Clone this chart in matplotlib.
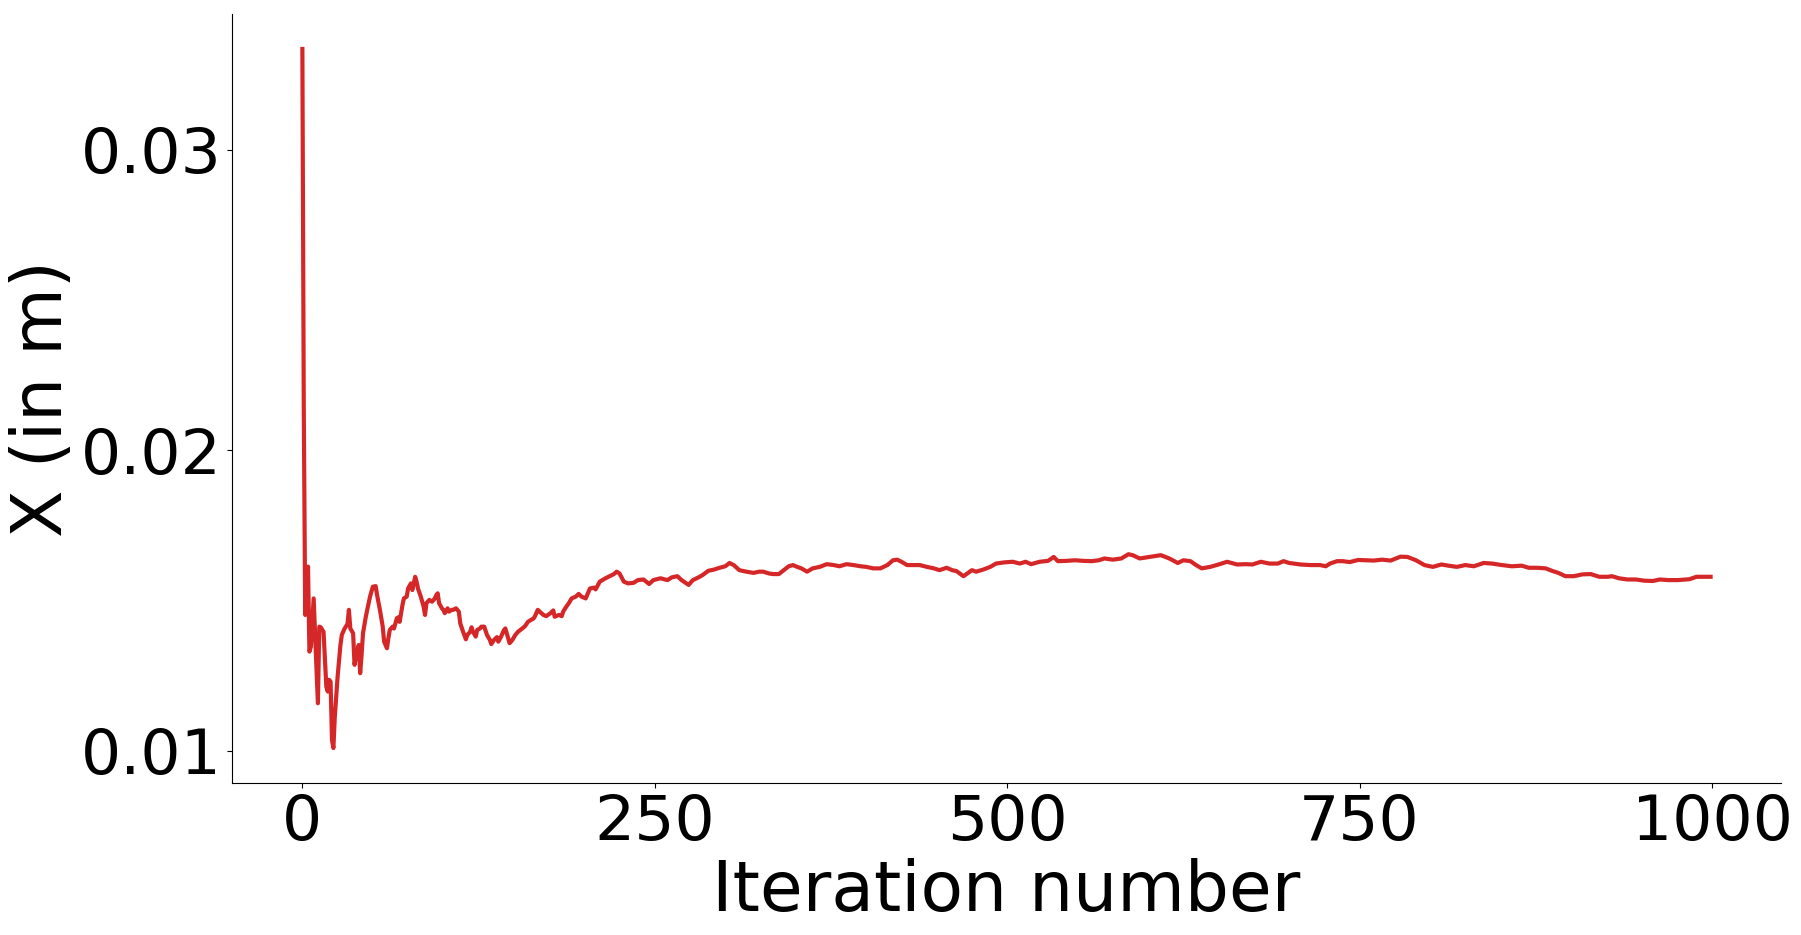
import matplotlib.pyplot as plt

# valores
iteration = [0, 1, 2, 4, 5, 6, 8, 11, 12, 13, 15, 17, 18, 19, 20, 21, 22, 23, 25, 27,
             28, 30, 32, 33, 34, 36, 37, 38, 40, 41, 42, 43, 45, 46, 48, 50, 52, 53, 55, 57,
             58, 60, 61, 62, 64, 65, 67, 68, 69, 71, 72, 74, 75, 77, 78, 79, 80, 81, 82, 84,
             86, 87, 88, 90, 92, 94, 95, 96, 97, 99, 100, 101, 103, 104, 106, 107, 109, 111, 112, 114,
             116, 117, 119, 120, 121, 123, 124, 126, 127, 129, 131, 133, 134, 136, 138, 139, 141, 143, 144, 145,
             147, 149, 151, 153, 156, 158, 160, 162, 164, 165, 167, 169, 171, 173, 176, 178, 179, 182, 184, 185,
             187, 189, 191, 194, 196, 198, 201, 204, 207, 208, 211, 215, 218, 221, 223, 225, 228, 231, 235, 238,
             242, 246, 249, 254, 259, 262, 266, 269, 274, 277, 281, 284, 288, 292, 296, 300, 303, 306, 310, 315,
             320, 324, 327, 331, 334, 338, 341, 345, 348, 351, 354, 358, 362, 367, 372, 377, 381, 386, 391, 396,
             400, 405, 410, 415, 419, 422, 425, 429, 433, 438, 443, 448, 452, 457, 461, 464, 469, 475, 478, 483,
             488, 492, 498, 504, 509, 513, 517, 523, 529, 533, 536, 542, 548, 554, 560, 565, 569, 575, 581, 586,
             589, 594, 601, 609, 615, 621, 625, 630, 634, 638, 644, 650, 656, 663, 669, 674, 680, 686, 692, 696,
             700, 708, 715, 722, 726, 729, 734, 738, 743, 749, 754, 760, 766, 772, 779, 784, 790, 796, 802, 808,
             813, 819, 825, 831, 838, 844, 851, 858, 865, 870, 876, 882, 887, 891, 896, 902, 908, 914, 920, 926,
             929, 934, 940, 946, 952, 958, 963, 969, 976, 984, 989, 994, 999]

x_m = [0.03336, 0.0213, 0.01452, 0.01613, 0.0133, 0.01346, 0.01507, 0.01158, 0.01413, 0.01411,
       0.01396, 0.01213, 0.01197, 0.01236, 0.0123, 0.01036, 0.01009, 0.01113, 0.01247, 0.01352,
       0.01386, 0.01407, 0.01422, 0.01469, 0.01407, 0.01391, 0.01286, 0.01313, 0.01352, 0.01258,
       0.01319, 0.01391, 0.01446, 0.01469, 0.01513, 0.01546, 0.01548, 0.01518, 0.01469, 0.01413,
       0.01363, 0.01341, 0.01374, 0.01402, 0.01413, 0.01407, 0.01441, 0.01444, 0.01429, 0.01485,
       0.01507, 0.01513, 0.0154, 0.01557, 0.01535, 0.01557, 0.01579, 0.01563, 0.0154, 0.01513,
       0.0148, 0.01452, 0.01491, 0.01502, 0.01496, 0.01507, 0.01518, 0.01524, 0.01491, 0.01474,
       0.01469, 0.01458, 0.01474, 0.01463, 0.01469, 0.01469, 0.01474, 0.01463, 0.01424, 0.01396,
       0.01371, 0.01385, 0.01396, 0.01411, 0.01396, 0.0138, 0.01402, 0.01407, 0.01413, 0.01413,
       0.01385, 0.01369, 0.01355, 0.01369, 0.01378, 0.01363, 0.0138, 0.01402, 0.01407, 0.01391,
       0.01358, 0.01369, 0.01385, 0.01396, 0.01407, 0.01415, 0.01429, 0.01435, 0.0144, 0.01448,
       0.01469, 0.0146, 0.01452, 0.01448, 0.01458, 0.01467, 0.01446, 0.01452, 0.01448, 0.01463,
       0.01478, 0.01491, 0.01507, 0.01513, 0.01522, 0.01513, 0.01507, 0.0154, 0.01543, 0.01537,
       0.01563, 0.01574, 0.01581, 0.01588, 0.01596, 0.0159, 0.01563, 0.01557, 0.01559, 0.01568,
       0.0157, 0.01555, 0.01568, 0.01574, 0.01568, 0.01577, 0.01581, 0.01568, 0.01552, 0.01568,
       0.01577, 0.01585, 0.01599, 0.01603, 0.01609, 0.01614, 0.01625, 0.01618, 0.01601, 0.01596,
       0.01592, 0.01596, 0.01596, 0.0159, 0.01588, 0.01588, 0.01599, 0.01614, 0.01618, 0.01612,
       0.01607, 0.01596, 0.01607, 0.01612, 0.01621, 0.01618, 0.01614, 0.01621, 0.01618, 0.01614,
       0.01612, 0.01607, 0.01607, 0.01618, 0.01634, 0.01636, 0.01629, 0.01618, 0.01618, 0.01618,
       0.01612, 0.01607, 0.01601, 0.01609, 0.01601, 0.01598, 0.01581, 0.01601, 0.01596, 0.01603,
       0.01612, 0.01623, 0.01627, 0.01629, 0.01623, 0.01629, 0.01621, 0.01629, 0.01632, 0.01645,
       0.01631, 0.01632, 0.01634, 0.01632, 0.01631, 0.01634, 0.0164, 0.01636, 0.0164, 0.01654,
       0.01651, 0.0164, 0.01645, 0.01651, 0.0164, 0.01625, 0.01634, 0.01631, 0.01618, 0.01607,
       0.01612, 0.0162, 0.01629, 0.0162, 0.01621, 0.0162, 0.01629, 0.01623, 0.01623, 0.01631,
       0.01625, 0.0162, 0.01618, 0.01618, 0.01614, 0.01623, 0.01631, 0.01631, 0.01628, 0.01635,
       0.01634, 0.01633, 0.01636, 0.01633, 0.01646, 0.01645, 0.01634, 0.01618, 0.01612, 0.0162,
       0.01616, 0.01612, 0.01618, 0.01614, 0.01625, 0.01623, 0.01618, 0.01614, 0.01616, 0.01609,
       0.01609, 0.01607, 0.01598, 0.01592, 0.01581, 0.01581, 0.01587, 0.01588, 0.01579, 0.01579,
       0.01581, 0.01574, 0.0157, 0.0157, 0.01566, 0.01565, 0.0157, 0.01568, 0.01568, 0.01571,
       0.01579, 0.01579, 0.01579]

fig = plt.figure(figsize=(18.01, 9.35), dpi=100)
ax = plt.axes()
fig.subplots_adjust(left=0.1288, right=0.9889, bottom=0.1626, top=0.985)

plt.plot(iteration, x_m, color="#d62728", linewidth=3)

ax.spines["top"].set_visible(False)
ax.spines["right"].set_visible(False)
ax.set_xticks([0, 250, 500, 750, 1000])
ax.set_yticks([0.01, 0.02, 0.03])
ax.tick_params(labelsize=45.5)
plt.xlabel("Iteration number", fontsize=50)
plt.ylabel("X (in m)", fontsize=50)

plt.savefig("out.png", dpi=100)
